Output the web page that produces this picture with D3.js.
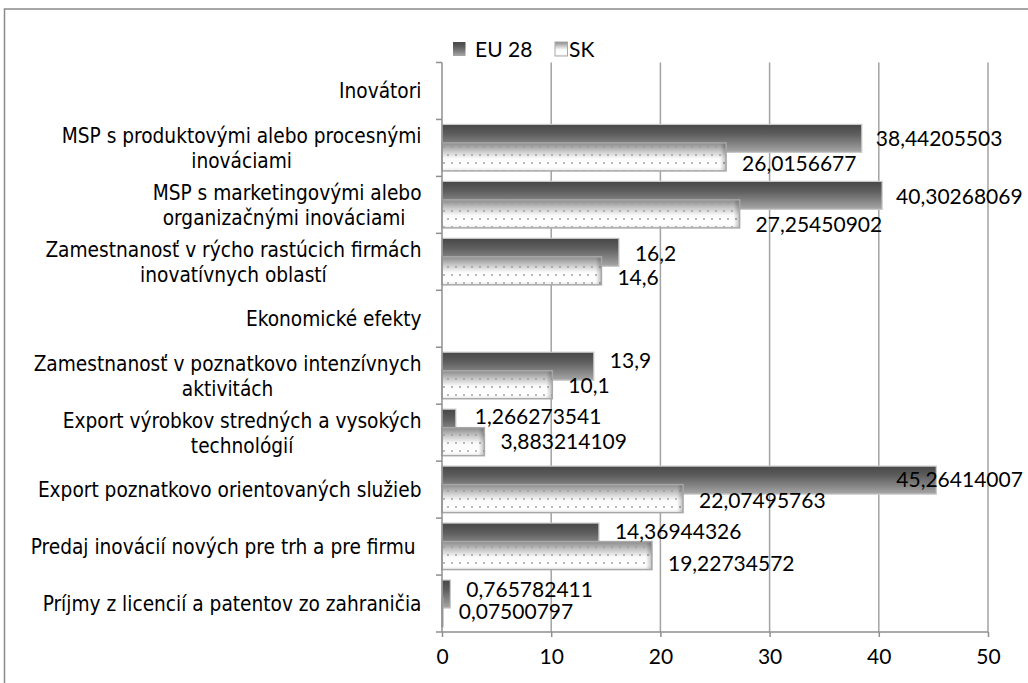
<!DOCTYPE html>
<html>
<head>
<meta charset="utf-8">
<script src="https://cdn.jsdelivr.net/npm/d3@7"></script>
<style>
  html, body { margin: 0; padding: 0; background: #fff; }
  svg { display: block; }
</style>
</head>
<body>
<svg id="chart" width="1028" height="683"></svg>
<script>
// ---------- data ----------
const categories = [
  ["Inovátori"],
  ["MSP s produktovými alebo procesnými", "inováciami"],
  ["MSP s marketingovými alebo", "organizačnými inováciami\u00a0"],
  ["Zamestnanosť v rýcho rastúcich firmách", "inovatívnych oblastí"],
  ["Ekonomické efekty"],
  ["Zamestnanosť v poznatkovo intenzívnych", "aktivitách"],
  ["Export výrobkov stredných a vysokých", "technológií"],
  ["Export poznatkovo orientovaných služieb"],
  ["Predaj inovácií nových pre trh a pre firmu\u00a0"],
  ["Príjmy z licencií a patentov zo zahraničia"]
];
const seriesNames = ["EU 28", "SK"];
const euValues = [null, 38.44205503, 40.30268069, 16.2, null, 13.9, 1.266273541, 45.26414007, 14.36944326, 0.765782411];
const skValues = [null, 26.0156677, 27.25450902, 14.6, null, 10.1, 3.883214109, 22.07495763, 19.22734572, 0.07500797];
const xTicks = [0, 10, 20, 30, 40, 50];

// label nudges (layout only, px)
const euLabelNudge = [0, 0, 0.6, 0.7, 0, -6, -6.5, -1, -5.5, -4.7];
const euLabelShiftX = [0, -2, -2, 0, 0, 0, 3, -56, 0, 0];
const skLabelNudge = [0, 6.4, 11, 7, 0, 0.3, 0, 1.4, 7.7, -0.8];

// ---------- layout ----------
const svg = d3.select("#chart");
const W = 1028, H = 683;
const plot = { left: 442, right: 988, top: 62.5, bottom: 632 };
const grid = "#a3a3a3";
const valueFont = "Lato, 'Open Sans', sans-serif";
const catFont = "'DejaVu Sans Condensed', 'DejaVu Sans', Verdana, sans-serif";

const x = d3.scaleLinear().domain([0, 50]).range([plot.left, plot.right]);
const y = d3.scaleBand().domain(d3.range(categories.length)).range([plot.top, plot.bottom]).padding(0);

// defs
const defs = svg.append("defs");
const gEU = defs.append("linearGradient").attr("id", "gEU").attr("x1", 0).attr("y1", 0).attr("x2", 0).attr("y2", 1);
[[0, "#474747"], [0.35, "#5e5e5e"], [0.75, "#8a8a8a"], [1, "#a8a8a8"]].forEach(s =>
  gEU.append("stop").attr("offset", s[0]).attr("stop-color", s[1]));
const gSK = defs.append("linearGradient").attr("id", "gSK").attr("x1", 0).attr("y1", 0).attr("x2", 0).attr("y2", 1);
[[0, "#8a8a8a"], [0.3, "#c9c9c9"], [0.55, "#fafafa"], [0.85, "#ffffff"], [1, "#ececec"]].forEach(s =>
  gSK.append("stop").attr("offset", s[0]).attr("stop-color", s[1]));
const gSKr = defs.append("linearGradient").attr("id", "gSKr").attr("x1", 0).attr("y1", 0).attr("x2", 1).attr("y2", 0);
[[0, "#000", 0], [1, "#000", 0.25]].forEach(s =>
  gSKr.append("stop").attr("offset", s[0]).attr("stop-color", s[1]).attr("stop-opacity", s[2]));
const pat = defs.append("pattern").attr("id", "dots").attr("patternUnits", "userSpaceOnUse")
  .attr("width", 16).attr("height", 16).attr("x", 0).attr("y", 0);
[[4, 3], [12, 3], [8, 11], [0, 11], [16, 11]].forEach(p =>
  pat.append("circle").attr("cx", p[0]).attr("cy", p[1]).attr("r", 0.9).attr("fill", "#9a9a9a"));

// outer border
svg.append("path").attr("d", `M4.5,${H} V9 H${W}`).attr("fill", "none").attr("stroke", "#8a8a8a").attr("stroke-width", 1.5);

// gridlines
svg.append("g").selectAll("line").data(xTicks.filter(t => t > 0)).join("line")
  .attr("x1", d => x(d)).attr("x2", d => x(d))
  .attr("y1", plot.top).attr("y2", plot.bottom)
  .attr("stroke", grid).attr("stroke-width", 1.5);

// bars
const barH = 28;
const euTop = i => y(i) + y.bandwidth() / 2 - 23.5;
const skTop = i => y(i) + y.bandwidth() / 2 - 5;

const euData = euValues.map((v, i) => ({ v, i })).filter(d => d.v != null);
const skData = skValues.map((v, i) => ({ v, i })).filter(d => d.v != null);

const barsEU = svg.append("g");
barsEU.selectAll("rect").data(euData).join("rect")
  .attr("x", x(0)).attr("y", d => euTop(d.i))
  .attr("width", d => x(d.v) - x(0)).attr("height", barH)
  .attr("fill", "url(#gEU)").attr("stroke", "#c8c8c8").attr("stroke-width", 1.2);

const barsSK = svg.append("g");
barsSK.selectAll("rect.base").data(skData).join("rect").attr("class", "base")
  .attr("x", x(0)).attr("y", d => skTop(d.i))
  .attr("width", d => x(d.v) - x(0)).attr("height", barH)
  .attr("fill", "url(#gSK)");
barsSK.selectAll("rect.dot").data(skData).join("rect").attr("class", "dot")
  .attr("x", x(0)).attr("y", d => skTop(d.i))
  .attr("width", d => x(d.v) - x(0)).attr("height", barH)
  .attr("fill", "url(#dots)");
barsSK.selectAll("rect.edge").data(skData).join("rect").attr("class", "edge")
  .attr("x", d => Math.max(x(0), x(d.v) - 6)).attr("y", d => skTop(d.i))
  .attr("width", d => Math.min(6, x(d.v) - x(0))).attr("height", barH)
  .attr("fill", "url(#gSKr)");
barsSK.selectAll("rect.outline").data(skData).join("rect").attr("class", "outline")
  .attr("x", x(0)).attr("y", d => skTop(d.i))
  .attr("width", d => x(d.v) - x(0)).attr("height", barH)
  .attr("fill", "none").attr("stroke", "#a8a8a8").attr("stroke-width", 1.5);

// axes
const axisColor = "#8f8f8f";
const xAxis = d3.axisBottom(x).tickValues(xTicks).tickSize(5).tickPadding(12).tickFormat(d3.format("d"));
const gx = svg.append("g").attr("transform", `translate(0,${plot.bottom})`).call(xAxis);
gx.select(".domain").attr("stroke", axisColor).attr("stroke-width", 1.5).attr("d", `M${plot.left},0H${plot.right}`);
gx.selectAll(".tick line").attr("stroke", axisColor).attr("stroke-width", 1.5);
gx.selectAll(".tick text").attr("font-family", valueFont).attr("font-size", 21).attr("fill", "#000");

const yBound = d3.range(categories.length + 1).map(i => plot.top + i * y.bandwidth());
svg.append("line").attr("x1", plot.left).attr("x2", plot.left).attr("y1", plot.top).attr("y2", plot.bottom)
  .attr("stroke", axisColor).attr("stroke-width", 1.5);
svg.append("g").selectAll("line").data(yBound).join("line")
  .attr("x1", plot.left - 6).attr("x2", plot.left).attr("y1", d => d).attr("y2", d => d)
  .attr("stroke", axisColor).attr("stroke-width", 1.5);

// value labels
const fmt = v => String(v).replace(".", ",");
const lbl = svg.append("g").attr("font-family", valueFont).attr("font-size", 21).attr("fill", "#000");
lbl.selectAll("text.eu").data(euData).join("text").attr("class", "eu")
  .attr("x", d => x(d.v) + 16 + euLabelShiftX[d.i])
  .attr("y", d => euTop(d.i) + barH / 2 + euLabelNudge[d.i])
  .attr("dy", "0.36em").text(d => fmt(d.v));
lbl.selectAll("text.sk").data(skData).join("text").attr("class", "sk")
  .attr("x", d => x(d.v) + 16)
  .attr("y", d => skTop(d.i) + barH / 2 + skLabelNudge[d.i])
  .attr("dy", "0.36em").text(d => fmt(d.v));

// category labels
const catRight = 421.5;
const lineH = 25;
const cat = svg.append("g").attr("font-family", catFont).attr("font-stretch", "condensed")
  .attr("font-size", 16).attr("fill", "#000");
const probe = cat.append("text").text(categories[7][0]);
const targetW = 384;
const fs = Math.min(21, 16 * targetW / probe.node().getComputedTextLength());
probe.remove();
cat.attr("font-size", fs);
categories.forEach((lines, i) => {
  const cy = y(i) + y.bandwidth() / 2;
  const g = cat.append("g");
  const texts = lines.map((t, k) => g.append("text")
    .attr("y", cy + (k - (lines.length - 1) / 2) * lineH)
    .attr("dy", "0.36em").attr("text-anchor", "middle").text(t));
  const maxW = d3.max(texts, t => t.node().getComputedTextLength());
  texts.forEach(t => t.attr("x", catRight - maxW / 2));
});

// legend
const leg = svg.append("g").attr("font-family", valueFont).attr("font-size", 21);
const legItems = [
  { name: seriesNames[0], sx: 453, tx: 475, fill: "url(#gEU)", stroke: "none" },
  { name: seriesNames[1], sx: 555, tx: 569, fill: "url(#gSK)", stroke: "#a8a8a8" }
];
legItems.forEach(it => {
  leg.append("rect").attr("x", it.sx).attr("y", 42).attr("width", 12.5).attr("height", 14)
    .attr("fill", it.fill).attr("stroke", it.stroke);
  leg.append("text").attr("x", it.tx).attr("y", 49).attr("dy", "0.36em").text(it.name);
});
</script>
</body>
</html>
